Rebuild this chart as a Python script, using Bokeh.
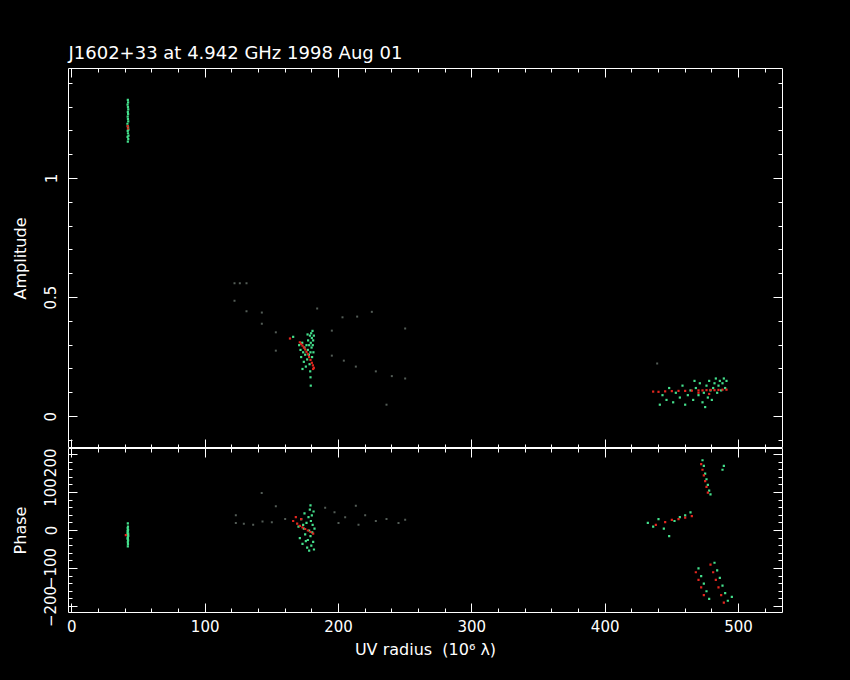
from bokeh.plotting import figure
from bokeh.layouts import column
from bokeh.models import Range1d, LinearAxis, SingleIntervalTicker, CustomJSTickFormatter
from bokeh.embed import file_html
from bokeh.resources import INLINE

TITLE = "J1602+33 at 4.942 GHz 1998 Aug 01"
X_LABEL = "UV radius\u00a0\u00a0(10\u2076 \u03bb)"
AMP_LABEL = "Amplitude"
PH_LABEL = "Phase"
AMP_TICK_LABELS = {0: "0", 0.5: "0.5", 1: "1"}

# ---- amplitude panel: green points ----
amp_green_x = [42.0, 42.3, 41.8, 42.5, 42.1, 41.9, 42.4, 42.2, 42.0, 41.7, 42.3, 42.1, 41.9, 42.2, 42.0, 42.3, 42.1, 41.8, 42.2, 42.0,
               166.0, 170.5, 171.5, 172.0, 172.8, 173.5, 174.0, 174.5, 175.0, 175.5, 176.0, 176.5, 177.0, 177.2, 177.8, 178.0, 178.3,
               178.6, 179.0, 179.2, 179.5, 179.8, 180.0, 180.2, 180.5, 180.7, 181.0, 181.2, 181.5, 178.8, 179.0, 179.2, 173.0, 176.8,
               441, 443, 446, 448, 451, 453, 456, 458, 460, 462, 464, 466, 468, 470, 471, 473, 474, 476, 477, 478, 479, 480, 481, 482,
               483, 484, 485, 486, 487, 488, 489, 490, 491, 475, 467]
amp_green_y = [1.155, 1.165, 1.175, 1.18, 1.19, 1.20, 1.205, 1.215, 1.22, 1.23, 1.24, 1.25, 1.26, 1.27, 1.28, 1.29, 1.30, 1.31, 1.32, 1.33,
               0.335, 0.30, 0.28, 0.25, 0.31, 0.27, 0.23, 0.29, 0.26, 0.21, 0.30, 0.24, 0.28, 0.32, 0.26, 0.30, 0.22,
               0.34, 0.27, 0.31, 0.35, 0.29, 0.33, 0.25, 0.36, 0.30, 0.32, 0.27, 0.34, 0.19, 0.165, 0.13, 0.20, 0.345,
               0.05, 0.09, 0.07, 0.12, 0.06, 0.10, 0.08, 0.13, 0.05, 0.09, 0.11, 0.07, 0.12, 0.09, 0.14, 0.06, 0.10, 0.13, 0.08, 0.15,
               0.11, 0.07, 0.12, 0.14, 0.16, 0.10, 0.13, 0.15, 0.11, 0.14, 0.16, 0.12, 0.15, 0.04, 0.15]

# ---- amplitude panel: red points ----
amp_red_x = [42.1, 41.9,
             163.6, 171.0, 172.0, 173.0, 174.0, 175.0, 176.0, 177.0, 178.0, 179.0, 180.0, 180.8, 181.5, 181.0,
             436, 440, 445, 450, 455, 460, 465, 470, 473, 476, 479, 482, 485, 488, 491, 478, 470]
amp_red_y = [1.21, 1.22,
             0.328, 0.312, 0.305, 0.298, 0.29, 0.282, 0.272, 0.262, 0.25, 0.238, 0.226, 0.215, 0.205, 0.20,
             0.105, 0.104, 0.106, 0.107, 0.108, 0.108, 0.109, 0.11, 0.11, 0.111, 0.112, 0.111, 0.112, 0.113, 0.113, 0.095, 0.10]

# ---- amplitude panel: faint isolated points ----
amp_faint_x = [122, 126, 131, 122, 131, 142.5, 142.5, 153, 153, 184, 203, 195, 195, 204, 214, 225, 250, 213, 228, 240, 250, 236, 439]
amp_faint_y = [0.56, 0.56, 0.56, 0.487, 0.442, 0.437, 0.39, 0.354, 0.277, 0.454, 0.417, 0.361, 0.256, 0.235, 0.42, 0.44, 0.37,
               0.21, 0.19, 0.17, 0.16, 0.05, 0.223]

# ---- phase panel: green points ----
ph_green_x = [42.0, 42.1, 41.9, 42.2, 42.0, 41.8, 42.1, 42.3, 42.0, 41.9, 42.2, 42.0, 42.1, 42.0, 41.9, 42.2, 42.0,
              170, 171, 172, 173, 174, 174.5, 175, 176, 176.5, 177, 177.5, 178, 178.5, 179, 179.3, 179.6, 180, 180.3, 180.6,
              181, 181.3, 181.6, 182, 178, 179, 175.5, 173.5,
              432, 436, 440, 444, 448, 452, 456, 460, 464,
              474, 475, 476, 477, 478, 479, 488, 489, 473,
              470, 472, 474, 476, 478, 482, 484, 486, 488, 490, 492, 495]
ph_green_y = [19, 10, 6, 2, -2, -6, -10, -14, -18, -22, -26, -30, -36, -42, 0, -8, -20,
              10, -20, 30, -35, 5, 45, -10, 20, -45, -25, 35, 0, 55, -15, 25, -40, 40, -5, 15,
              -30, 50, -50, 5, -53, 66, -28, 15,
              20, 10, 30, 5, -15, 25, 35, 40, 48,
              170, 150, 135, 120, 105, 95, 160, 170, 185,
              -100, -120, -140, -160, -180, -85, -105, -125, -145, -165, -185, -175]

# ---- phase panel: red points ----
ph_red_x = [40.5,
            166, 169, 171, 173, 175, 177, 179, 181, 172, 168,
            438, 445, 450, 455, 460, 465,
            472, 473, 474, 475, 476, 477,
            468, 470, 472, 474, 479, 481, 483, 485, 487, 489]
ph_red_y = [-12,
            25, 18, 12, 8, 4, 0, -4, -8, 30, 35,
            15, 22, 28, 30, 34, 38,
            175, 160, 145, 130, 115, 100,
            -110, -130, -150, -170, -90, -110, -130, -150, -170, -190]

# ---- phase panel: faint isolated points ----
ph_faint_x = [123, 123, 129, 136, 143, 150, 142.4, 153, 160, 190, 197, 205, 213, 220, 228, 236, 245, 250, 200, 215]
ph_faint_y = [40, 20, 18, 15, 24, 22, 99, 64, 30, 60, 48, 35, 65, 40, 25, 30, 20, 28, 20, 15]

GREEN = "#44e08c"
RED = "#e3261f"
FONT = "DejaVu Sans"

X_START, X_END = -2.5, 533
AMP_START, AMP_END = -0.134, 1.462
PH_START, PH_END = -216, 216

x_range = Range1d(X_START, X_END)


def tick_only_axis(tk, loc):
    return LinearAxis(ticker=tk, axis_line_color=None, fixed_location=loc,
                      major_tick_line_color="white", minor_tick_line_color="white",
                      major_tick_in=9, major_tick_out=0, minor_tick_in=4, minor_tick_out=0,
                      formatter=CustomJSTickFormatter(code="return ''"),
                      major_label_standoff=0)


def style(p, yticker, xticker, y_end, show_x_labels, y_start):
    p.background_fill_color = "black"
    p.border_fill_color = "black"
    p.outline_line_color = "white"
    p.outline_line_width = 1
    p.grid.visible = False
    for ax in p.yaxis:
        ax.ticker = yticker
    for ax in p.xaxis:
        ax.ticker = xticker
    for ax in list(p.xaxis) + list(p.yaxis):
        ax.axis_line_color = None
        ax.major_tick_line_color = "white"
        ax.minor_tick_line_color = "white"
        ax.major_tick_in = 9
        ax.major_tick_out = 0
        ax.minor_tick_in = 4
        ax.minor_tick_out = 0
        ax.major_label_text_color = "white"
        ax.major_label_text_font = FONT
        ax.major_label_text_font_size = "15px"
        ax.axis_label_text_color = "white"
        ax.axis_label_text_font = FONT
        ax.axis_label_text_font_size = "16px"
        ax.axis_label_text_font_style = "normal"
    p.yaxis.major_label_orientation = "vertical"
    p.yaxis.major_label_standoff = 12
    p.yaxis.axis_label_standoff = 12
    if not show_x_labels:
        p.xaxis.formatter = CustomJSTickFormatter(code="return ''")
        p.xaxis.major_label_standoff = 0
        p.xaxis.fixed_location = y_start
    else:
        p.xaxis.major_label_standoff = 7
        p.xaxis.axis_label_standoff = 5
    # ticks on the opposite sides (no labels)
    p.add_layout(tick_only_axis(xticker, y_end), "above")
    p.add_layout(tick_only_axis(yticker, X_END), "right")


amp_yt = SingleIntervalTicker(interval=0.5, num_minor_ticks=5)
ph_yt = SingleIntervalTicker(interval=100, num_minor_ticks=5)
xt1 = SingleIntervalTicker(interval=100, num_minor_ticks=5)
xt2 = SingleIntervalTicker(interval=100, num_minor_ticks=5)

p1 = figure(width=850, height=448, x_range=x_range, y_range=Range1d(AMP_START, AMP_END),
            output_backend="svg", toolbar_location=None,
            min_border_left=68, min_border_right=68, min_border_top=68, min_border_bottom=0)
p1.title.text = TITLE
p1.title.text_color = "white"
p1.title.text_font = FONT
p1.title.text_font_size = "18px"
p1.title.text_font_style = "normal"
p1.title.align = "left"
p1.title.standoff = 11
p1.yaxis.axis_label = AMP_LABEL
style(p1, amp_yt, xt1, AMP_END, False, AMP_START)
p1.yaxis.major_label_overrides = AMP_TICK_LABELS

p1.scatter(amp_faint_x, amp_faint_y, marker="square", size=2, color="#8a9a90", alpha=0.6, line_color=None)
p1.scatter(amp_green_x, amp_green_y, marker="square", size=2.2, color=GREEN, line_color=None)
p1.scatter(amp_red_x, amp_red_y, marker="square", size=2.2, color=RED, line_color=None)

p2 = figure(width=850, height=232, x_range=x_range, y_range=Range1d(PH_START, PH_END),
            output_backend="svg", toolbar_location=None,
            min_border_left=68, min_border_right=68, min_border_top=0, min_border_bottom=68)
p2.yaxis.axis_label = PH_LABEL
p2.xaxis.axis_label = X_LABEL
style(p2, ph_yt, xt2, PH_END, True, PH_START)

p2.scatter(ph_faint_x, ph_faint_y, marker="square", size=2, color="#8a9a90", alpha=0.6, line_color=None)
p2.scatter(ph_green_x, ph_green_y, marker="square", size=2.2, color=GREEN, line_color=None)
p2.scatter(ph_red_x, ph_red_y, marker="square", size=2.2, color=RED, line_color=None)

layout = column(p1, p2, spacing=0, styles={"background-color": "black"})

html = file_html(layout, INLINE)
html = html.replace("<head>", "<head><style>html, body { background: #000; }</style>", 1)
open("out.html", "w").write(html)
